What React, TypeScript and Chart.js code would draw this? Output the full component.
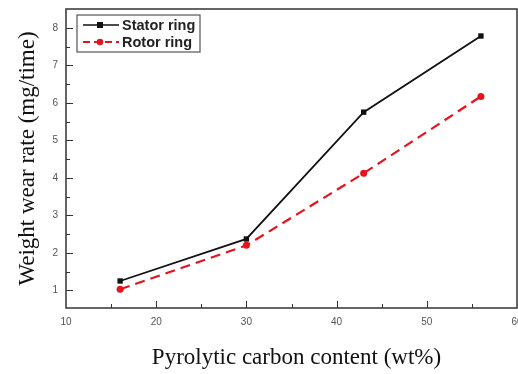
import React, { useEffect, useRef } from "react";
import { Chart, registerables } from "chart.js";
Chart.register(...registerables);

const carbonContent = [16, 30, 43, 56];
const statorWear = [1.25, 2.37, 5.75, 7.78];
const rotorWear = [1.03, 2.2, 4.12, 6.17];
const yTicks = [1, 2, 3, 4, 5, 6, 7, 8];
const xTicks = [10, 20, 30, 40, 50, 60];
const seriesNames = ["Stator ring", "Rotor ring"];
const xTitle = "Pyrolytic carbon content (wt%)";
const yTitle = "Weight wear rate (mg/time)";

const SANS = "'Liberation Sans', Arial, sans-serif";
const SERIF = "'Liberation Serif', 'Times New Roman', serif";

const frameAndTicks = {
  id: "frameAndTicks",
  afterDatasetsDraw(chart: any) {
    const { ctx, chartArea: a, scales } = chart;
    const x = scales.x, y = scales.y;
    ctx.save();
    ctx.strokeStyle = "#333";
    ctx.lineWidth = 1.5;
    ctx.strokeRect(a.left, a.top, a.right - a.left, a.bottom - a.top);
    ctx.lineWidth = 1;
    for (let v = 1; v <= 8; v += 0.5) {
      const py = Math.round(y.getPixelForValue(v)) + 0.5;
      const len = Number.isInteger(v) ? 7 : 4;
      ctx.beginPath();
      ctx.moveTo(a.left, py);
      ctx.lineTo(a.left + len, py);
      ctx.stroke();
    }
    for (let v = 15; v < 60; v += 5) {
      const px = Math.round(x.getPixelForValue(v)) + 0.5;
      const len = v % 10 === 0 ? 7 : 4;
      ctx.beginPath();
      ctx.moveTo(px, a.bottom);
      ctx.lineTo(px, a.bottom - len);
      ctx.stroke();
    }
    // tick labels
    ctx.fillStyle = "#555";
    ctx.font = "10px " + SANS;
    ctx.textBaseline = "middle";
    ctx.textAlign = "right";
    yTicks.forEach((v) => ctx.fillText(String(v), a.left - 8, y.getPixelForValue(v)));
    ctx.textAlign = "center";
    xTicks.forEach((v) => ctx.fillText(String(v), x.getPixelForValue(v), a.bottom + 14));
    // x title
    ctx.fillStyle = "#111";
    ctx.font = "23px " + SERIF;
    ctx.fillText(xTitle, (a.left + a.right) / 2 + 5, a.bottom + 50);
    // legend
    const lx = a.left + 11;
    const ty = a.top + 6;
    const w = 123, h = 37;
    ctx.fillStyle = "#fff";
    ctx.fillRect(lx, ty, w, h);
    ctx.strokeStyle = "#555";
    ctx.lineWidth = 1.2;
    ctx.strokeRect(lx, ty, w, h);
    const rows = [
      { name: seriesNames[0], color: "#111", dash: [] as number[], shape: "rect" },
      { name: seriesNames[1], color: "#e3141e", dash: [7, 4], shape: "circle" },
    ];
    rows.forEach((r, i) => {
      const ry = ty + 10 + i * 17;
      ctx.strokeStyle = r.color;
      ctx.lineWidth = r.dash.length ? 2 : 1.5;
      ctx.setLineDash(r.dash);
      ctx.beginPath();
      ctx.moveTo(lx + 6, ry);
      ctx.lineTo(lx + 42, ry);
      ctx.stroke();
      ctx.setLineDash([]);
      ctx.fillStyle = r.color;
      if (r.shape === "rect") ctx.fillRect(lx + 20, ry - 3, 6, 6);
      else {
        ctx.beginPath();
        ctx.arc(lx + 23, ry, 3.2, 0, Math.PI * 2);
        ctx.fill();
      }
      ctx.fillStyle = "#222";
      ctx.font = "bold 14.5px " + SANS;
      ctx.textAlign = "left";
      ctx.textBaseline = "middle";
      ctx.fillText(r.name, lx + 45, ry + 1);
    });
    ctx.restore();
  },
};

export default function App() {
  const ref = useRef<HTMLCanvasElement>(null);
  useEffect(() => {
    document.body.style.margin = "0";
    const chart = new Chart(ref.current!, {
      type: "line",
      data: {
        datasets: [
          {
            label: seriesNames[0],
            data: carbonContent.map((c, i) => ({ x: c, y: statorWear[i] })),
            borderColor: "#111",
            backgroundColor: "#111",
            borderWidth: 1.8,
            pointStyle: "rect",
            pointRadius: 3.8,
            pointBorderWidth: 0,
          },
          {
            label: seriesNames[1],
            data: carbonContent.map((c, i) => ({ x: c, y: rotorWear[i] })),
            borderColor: "#e3141e",
            backgroundColor: "#e3141e",
            borderWidth: 2.2,
            borderDash: [10, 6],
            pointStyle: "circle",
            pointRadius: 3.5,
            pointBorderWidth: 0,
          },
        ],
      },
      options: {
        animation: false,
        responsive: false,
        layout: { autoPadding: false, padding: { top: 9, right: 1, left: 0, bottom: 0 } },
        plugins: { legend: { display: false }, tooltip: { enabled: false } },
        scales: {
          x: {
            type: "linear",
            min: 10,
            max: 60,
            afterBuildTicks: (s: any) => { s.ticks = xTicks.map((v) => ({ value: v })); },
            afterFit: (s: any) => { s.height = 66; },
            grid: { display: false, drawTicks: false },
            border: { display: false },
            ticks: { display: false },
            title: { display: false },
          },
          y: {
            min: 0.53,
            max: 8.5,
            afterBuildTicks: (s: any) => { s.ticks = yTicks.map((v) => ({ value: v })); },
            afterFit: (s: any) => { s.width = 66; },
            grid: { display: false, drawTicks: false },
            border: { display: false },
            ticks: { display: false },
            title: {
              display: true,
              text: yTitle,
              color: "#111",
              font: { size: 23, family: SERIF },
              padding: { top: 14, bottom: 0 },
            },
          },
        },
      },
      plugins: [frameAndTicks],
    });
    return () => chart.destroy();
  }, []);
  return (
    <div style={{ width: 518, height: 374 }}>
      <canvas ref={ref} width={518} height={374} />
    </div>
  );
}
